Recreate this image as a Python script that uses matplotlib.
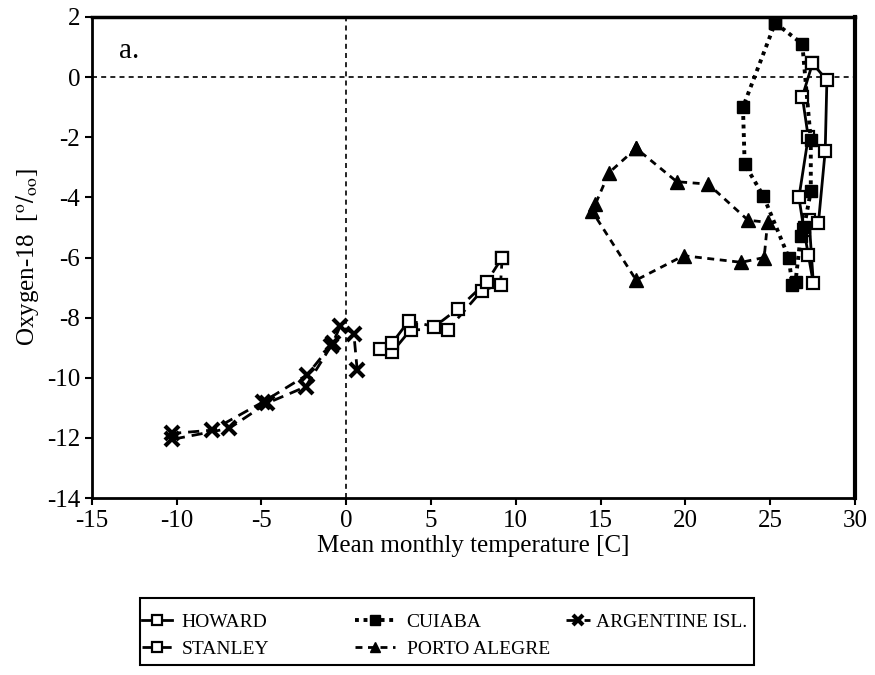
import matplotlib
matplotlib.use("Agg")
import matplotlib.pyplot as plt
from matplotlib.patches import Rectangle

plt.rcParams['font.family'] = ['Liberation Serif', 'DejaVu Serif']
plt.rcParams['mathtext.fontset'] = 'stix'
plt.rcParams['axes.unicode_minus'] = False

# HOWARD (solid, open squares)
howard_t = [27.5, 26.9, 27.25, 26.7, 27.0, 27.25, 27.55, 27.3, 27.85, 28.25, 28.35, 27.5]
howard_o = [0.45, -0.65, -2.0, -4.0, -5.1, -5.9, -6.85, -4.75, -4.85, -2.45, -0.1, 0.45]

# STANLEY (dashed, open squares)
stanley_t = [9.2, 9.1, 8.0, 6.0, 3.8, 2.7, 2.0, 2.7, 3.7, 5.2, 6.6, 8.3, 9.2]
stanley_o = [-6.0, -6.9, -7.1, -8.4, -8.4, -9.15, -9.05, -8.85, -8.1, -8.3, -7.7, -6.8, -6.0]

# CUIABA (dotted, filled squares)
cuiaba_t = [25.3, 26.9, 27.4, 27.4, 27.0, 26.8, 26.5, 26.3, 26.1, 24.6, 23.5, 23.4, 25.3]
cuiaba_o = [1.8, 1.1, -2.1, -3.8, -5.0, -5.3, -6.8, -6.9, -6.0, -3.95, -2.9, -1.0, 1.8]

# PORTO ALEGRE (dashed, triangles)
porto_t = [17.1, 15.5, 14.7, 14.5, 17.1, 19.9, 23.3, 24.65, 24.85, 23.7, 21.35, 19.5, 17.1]
porto_o = [-2.37, -3.18, -4.22, -4.46, -6.75, -5.94, -6.16, -6.0, -4.83, -4.76, -3.56, -3.48, -2.37]

# ARGENTINE ISL. (dashed, x)
arg_t = [0.65, 0.45, -0.35, -0.8, -2.3, -4.9, -7.9, -10.3, -10.3, -6.9, -4.7, -2.4, -0.9]
arg_o = [-9.75, -8.53, -8.28, -8.85, -9.9, -10.8, -11.74, -11.85, -12.05, -11.68, -10.85, -10.3, -8.95]

W, H = 875, 675
fig = plt.figure(figsize=(W / 100, H / 100), dpi=100)
ax = fig.add_axes([0.105, 0.262, 0.872, 0.713])

ax.axvline(0, color='black', lw=1.2, ls=(0, (3, 2.5)), zorder=1)
ax.axhline(0, color='black', lw=1.2, ls=(0, (3, 2.5)), zorder=1)

ms = 9
l1, = ax.plot(howard_t, howard_o, color='black', lw=2, ls='-', marker='s', ms=ms,
              mfc='white', mec='black', mew=1.6, label='HOWARD')
l2, = ax.plot(stanley_t, stanley_o, color='black', lw=2, ls=(0, (4, 2.5)), marker='s', ms=ms,
              mfc='white', mec='black', mew=1.6, label='STANLEY')
l3, = ax.plot(cuiaba_t, cuiaba_o, color='black', lw=2.8, ls=(0, (1, 1.2)), marker='s', ms=ms,
              mfc='black', mec='black', label='CUIABA')
l4, = ax.plot(porto_t, porto_o, color='black', lw=2, ls=(0, (2.5, 2)), marker='^', ms=ms + 1,
              mfc='black', mec='black', label='PORTO ALEGRE')
l5, = ax.plot(arg_t, arg_o, color='black', lw=2, ls=(0, (4, 2.5)), marker='x', ms=ms + 1,
              mew=3, mec='black', label='ARGENTINE ISL.')

ax.set_xlim(-15, 30)
ax.set_ylim(-14, 2)
ax.set_xticks(range(-15, 31, 5))
ax.set_yticks(range(-14, 3, 2))
ax.tick_params(labelsize=18, direction='out', length=5, width=1.5, color='black')
for s in ax.spines.values():
    s.set_linewidth(2)
ax.spines['right'].set_linewidth(3)
ax.spines['top'].set_linewidth(2.5)

ax.set_xlabel('Mean monthly temperature [C]', fontsize=18, labelpad=2)
ax.set_ylabel(r'Oxygen-18  [$^{\mathrm{o}}/_{\mathrm{oo}}$]', fontsize=18, labelpad=4)
ax.text(0.035, 0.93, 'a.', transform=ax.transAxes, fontsize=21, va='center', ha='left')

# legend: three columns placed like the reference, one frame around them
cols = [([l1, l2], 142, 1.55, 0.5),
        ([l3, l4], 355, 2.05, 0.6),
        ([l5], 566, 1.25, 0.3)]
for hs, x0, hl, tp in cols:
    lg = fig.legend(handles=hs, loc='upper left',
                    bbox_to_anchor=(x0 / W, 1 - 613 / H), bbox_transform=fig.transFigure,
                    fontsize=14, frameon=False, handlelength=hl, handletextpad=tp,
                    labelspacing=0.5, borderpad=0, borderaxespad=0, markerscale=0.75)
fig.patches.append(Rectangle((140 / W, 1 - 665 / H), 614 / W, 67 / H,
                             transform=fig.transFigure, fill=False,
                             edgecolor='black', lw=1.5))

fig.savefig('out.png', dpi=100, facecolor='white')
